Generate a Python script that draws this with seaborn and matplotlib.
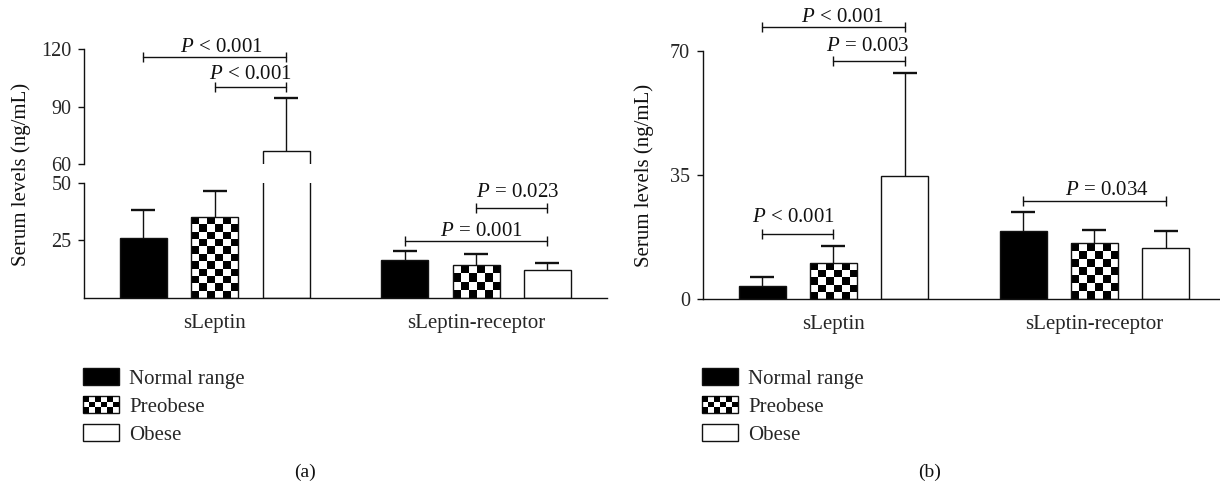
import numpy as np
import pandas as pd
import matplotlib
matplotlib.use("Agg")
import matplotlib.pyplot as plt
import seaborn as sns
from matplotlib.patches import Patch, Rectangle
from matplotlib.legend_handler import HandlerBase

# ---------------- data ----------------
categories = ["sLeptin", "sLeptin-receptor"]
groups = ["Normal range", "Preobese", "Obese"]

a_mean_sleptin = [25.8, 34.9, 66.9]
a_sd_sleptin = [12.2, 11.6, 27.5]
a_mean_receptor = [16.4, 14.0, 12.0]
a_sd_receptor = [3.7, 5.0, 2.9]

b_mean_sleptin = [3.7, 10.1, 34.8]
b_sd_sleptin = [2.6, 4.9, 29.1]
b_mean_receptor = [19.2, 15.7, 14.3]
b_sd_receptor = [5.4, 3.8, 4.9]

# (category, group i, group j, bracket level, p text)
a_sig = [("sLeptin", 0, 2, 116.1, "< 0.001"),
         ("sLeptin", 1, 2, 100.5, "< 0.001"),
         ("sLeptin-receptor", 1, 2, 39.1, "= 0.023"),
         ("sLeptin-receptor", 0, 2, 24.8, "= 0.001")]
b_sig = [("sLeptin", 0, 2, 76.7, "< 0.001"),
         ("sLeptin", 1, 2, 67.3, "= 0.003"),
         ("sLeptin", 0, 1, 18.3, "< 0.001"),
         ("sLeptin-receptor", 0, 2, 27.7, "= 0.034")]

a_upper_ticks = [60, 90, 120]
a_lower_ticks = [25, 50]
b_ticks = [0, 35, 70]

# layout only: label offsets (px) of each p-value text from its bracket centre
a_text_offsets = [(7, 5), (0, 8), (6, 11), (5, 5)]
b_text_offsets = [(9, 5.6), (-1, 10), (-4.5, 12), (13, 5.7)]

# ---------------- style ----------------
sns.set_style("white")
plt.rcParams["font.family"] = ["Liberation Serif", "DejaVu Serif"]
plt.rcParams["mathtext.fontset"] = "custom"
plt.rcParams["mathtext.it"] = "Liberation Serif:italic"
plt.rcParams["mathtext.rm"] = "Liberation Serif"

FS = 15
TICK_FS = 14.5
INK = "#111111"
palette = {"Normal range": "black", "Preobese": "white", "Obese": "white"}

W, H = 1220, 486
fig = plt.figure(figsize=(W / 100, H / 100), dpi=100)


def fpos(x0, y_top, x1, y_bot):
    return [x0 / W, 1 - y_bot / H, (x1 - x0) / W, (y_bot - y_top) / H]


def make_df(m_s, m_r):
    return pd.DataFrame({"marker": np.repeat(categories, len(groups)),
                         "group": groups * 2,
                         "value": list(m_s) + list(m_r)})


def style_ax(ax, bottom=True):
    for s in ["top", "right"]:
        ax.spines[s].set_visible(False)
    ax.spines["left"].set_linewidth(1.0)
    ax.spines["left"].set_color(INK)
    ax.spines["bottom"].set_linewidth(1.0)
    ax.spines["bottom"].set_color(INK)
    if not bottom:
        ax.spines["bottom"].set_visible(False)
        ax.tick_params(axis="x", bottom=False, labelbottom=False)
    ax.tick_params(axis="y", direction="out", length=4.3, width=1.0, color=INK,
                   labelsize=TICK_FS, pad=5, left=True)
    ax.tick_params(axis="x", direction="out", length=5, width=1.0, color=INK,
                   labelsize=FS, pad=6.5)
    ax.set_xlabel("")
    ax.set_ylabel("")
    ax.set_facecolor("white")
    ax.grid(False)


def draw(ax, m_s, m_r, sd_s, sd_r, ylim):
    df = make_df(m_s, m_r)
    sns.barplot(data=df, x="marker", y="value", hue="group", order=categories,
                hue_order=groups, palette=palette, edgecolor=INK, linewidth=1.0,
                errorbar=None, width=0.82, gap=0.34, saturation=1, legend=False,
                ax=ax)
    ax.set_xlim(-0.5, 1.5)
    ax.set_ylim(*ylim)
    slot = 0.82 / len(groups)
    info = {}
    for cont in list(ax.containers):
        for bar in cont:
            cx = bar.get_x() + bar.get_width() / 2
            ci = int(round(cx))
            hi = int(round((cx - ci) / slot)) + 1
            info[(ci, hi)] = (cx, bar)
    means = [m_s, m_r]
    sds = [sd_s, sd_r]
    for (ci, hi), (cx, bar) in info.items():
        m = means[ci][hi]
        sd = sds[ci][hi]
        ax.errorbar([cx], [m], yerr=[[0], [sd]], fmt="none", ecolor=INK,
                    elinewidth=1.0, capsize=0, zorder=0.9)
        ax.plot([cx], [m + sd], marker="_", ms=17, mew=1.7, color=INK,
                zorder=0.9)
    ax.set_xlim(-0.5, 1.5)
    ax.set_ylim(*ylim)
    return info


def checker(ax, info, ylim):
    fig.canvas.draw()
    for (ci, hi), (cx, bar) in info.items():
        if groups[hi] != "Preobese":
            continue
        x0, w = bar.get_x(), bar.get_width()
        y0, h = bar.get_y(), bar.get_height()
        if y0 + h <= ylim[0]:
            continue
        p0 = ax.transData.transform((x0, y0))
        p1 = ax.transData.transform((x0 + w, y0 + h))
        nx = max(1, int(round(abs(p1[0] - p0[0]) / 7.5)))
        ny = max(1, int(round(abs(p1[1] - p0[1]) / 7.5)))
        arr = np.indices((ny, nx)).sum(axis=0) % 2
        ax.imshow(arr, cmap="gray", vmin=0, vmax=1, origin="lower",
                  extent=(x0, x0 + w, y0, y0 + h), interpolation="nearest",
                  aspect="auto", zorder=bar.get_zorder() - 0.05)
        bar.set_facecolor("none")
    ax.set_xlim(-0.5, 1.5)
    ax.set_ylim(*ylim)


def bracket(ax, info, sig, offsets):
    for (cat, i, j, lvl, txt), (dx, dy) in zip(sig, offsets):
        ci = categories.index(cat)
        x1 = info[(ci, i)][0]
        x2 = info[(ci, j)][0]
        ax.plot([x1, x2], [lvl, lvl], color=INK, lw=1.0, marker="|", ms=7.5,
                mew=1.0, clip_on=False, zorder=5)
        ax.annotate(r"$P$ " + txt, xy=((x1 + x2) / 2, lvl),
                    xytext=(dx * 0.72, dy * 0.72),
                    textcoords="offset points", ha="center", va="baseline",
                    fontsize=FS, color=INK, annotation_clip=False)


# ---------------- panel (a): broken axis ----------------
ax_top = fig.add_axes(fpos(84.2, 49.3, 606.7, 164.3))
ax_bot = fig.add_axes(fpos(84.2, 182.7, 606.7, 297.7))
info_top = draw(ax_top, a_mean_sleptin, a_mean_receptor, a_sd_sleptin, a_sd_receptor, (60, 120))
info_bot = draw(ax_bot, a_mean_sleptin, a_mean_receptor, a_sd_sleptin, a_sd_receptor, (0, 50))
style_ax(ax_top, bottom=False)
style_ax(ax_bot, bottom=True)
ax_top.set_yticks(a_upper_ticks)
ax_bot.set_yticks(a_lower_ticks)
checker(ax_bot, info_bot, (0, 50))
top_idx = [k for k, s in enumerate(a_sig) if s[3] > 55]
bot_idx = [k for k, s in enumerate(a_sig) if s[3] <= 55]
bracket(ax_top, info_top, [a_sig[k] for k in top_idx], [a_text_offsets[k] for k in top_idx])
bracket(ax_bot, info_bot, [a_sig[k] for k in bot_idx], [a_text_offsets[k] for k in bot_idx])

# ---------------- panel (b) ----------------
ax_b = fig.add_axes(fpos(703.0, 51.0, 1224.8, 299.0))
info_b = draw(ax_b, b_mean_sleptin, b_mean_receptor, b_sd_sleptin, b_sd_receptor, (0, 70))
style_ax(ax_b, bottom=True)
ax_b.set_yticks(b_ticks)
checker(ax_b, info_b, (0, 70))
bracket(ax_b, info_b, b_sig, b_text_offsets)

# ---------------- y labels ----------------
fig.text(21 / W, 1 - 174 / H, "Serum levels (ng/mL)", rotation=90, ha="center",
         va="center", fontsize=FS, color=INK)
fig.text(644 / W, 1 - 175 / H, "Serum levels (ng/mL)", rotation=90, ha="center",
         va="center", fontsize=FS, color=INK)


# ---------------- legends ----------------
class CheckerHandler(HandlerBase):
    def create_artists(self, legend, orig_handle, xdescent, ydescent, width,
                       height, fontsize, trans):
        arts = [Rectangle((-xdescent, -ydescent), width, height, facecolor="white",
                          edgecolor=INK, lw=1.0, transform=trans)]
        nx, ny = 6, 3
        cw, ch = width / nx, height / ny
        for i in range(nx):
            for j in range(ny):
                if (i + j) % 2 == 0:
                    arts.append(Rectangle((-xdescent + i * cw, -ydescent + j * ch),
                                          cw, ch, facecolor="black", lw=0,
                                          transform=trans))
        return arts


def add_legend(x, y):
    h_norm = Patch(facecolor="black", edgecolor=INK, lw=1.0)
    h_pre = Patch(facecolor="white", edgecolor=INK, lw=1.0)
    h_ob = Patch(facecolor="white", edgecolor=INK, lw=1.0)
    fig.legend([h_norm, h_pre, h_ob], groups, loc="upper left",
               bbox_to_anchor=(x / W, 1 - y / H), frameon=False, borderpad=0,
               borderaxespad=0, handlelength=1.73, handleheight=0.85,
               handletextpad=0.5, labelspacing=0.36, fontsize=FS,
               handler_map={h_pre: CheckerHandler()})


add_legend(82.7, 368)
add_legend(701.8, 368)

fig.text(305 / W, 1 - 472.7 / H, "(a)", ha="center", va="center", fontsize=14, color=INK)
fig.text(929.6 / W, 1 - 472.7 / H, "(b)", ha="center", va="center", fontsize=14, color=INK)

fig.savefig("out.png", dpi=100, facecolor="white")
